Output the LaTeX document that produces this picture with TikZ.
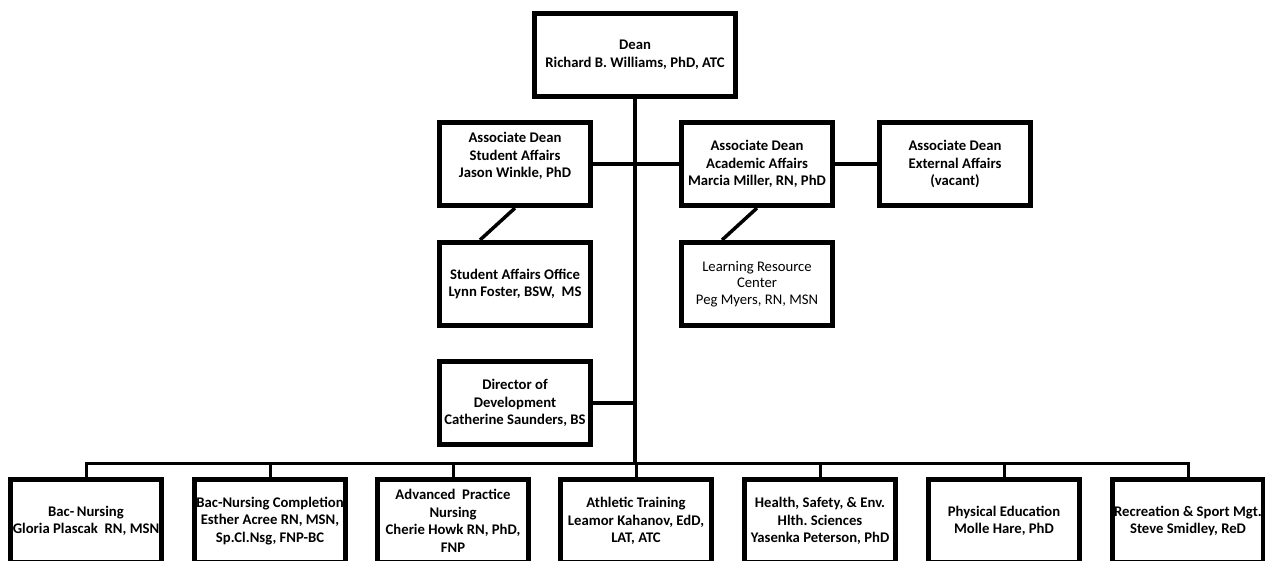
\documentclass[tikz,border=0pt]{standalone}
\usepackage{fontspec}
\setmainfont{Carlito}
\usetikzlibrary{calc}
\frenchspacing

\begin{document}
\begin{tikzpicture}[x=1pt,y=-1pt,
    office/.style={draw,line width=5pt,minimum width=151pt,minimum height=83pt,
      inner sep=1pt,align=center,font=\fontsize{14.7}{17.6}\selectfont\bfseries},
    link/.style={line width=3.5pt},
    bus/.style={line width=3pt}]
    \useasboundingbox (0,0) rectangle (1265,560);
    \clip (0,0) rectangle (1265,560);
    \node[office,minimum width=201pt] (dean) at (635,55) {Dean\\Richard B. Williams, PhD, ATC};
    \node[office] (adStudent) at (515,164) {Associate Dean\\Student Affairs\\Jason Winkle, PhD\\ \mbox{}};
    \node[office] (adAcademic) at (757,164) {Associate Dean\\Academic Affairs\\Marcia Miller, RN, PhD};
    \node[office] (adExternal) at (955,164) {Associate Dean\\External Affairs\\(vacant)};
    \node[office] (saOffice) at (515,284) {Student Affairs Office\\Lynn Foster, BSW,\ \ MS};
    \node[office,font=\fontsize{14.7}{16.8}\selectfont] (lrc) at (757,284) {Learning Resource\\Center\\Peg Myers, RN, MSN};
    \node[office] (devDir) at (515,403) {Director of\\Development\\Catherine Saunders, BS};
    \node[office] (bacNsg) at (86,521) {Bac-\,Nursing\\Gloria Plascak\ \ RN, MSN};
    \node[office] (bacCompl) at (270,521) {Bac-Nursing Completion\\Esther Acree RN, MSN,\\Sp.Cl.Nsg, FNP-BC};
    \node[office] (advNsg) at (453,521) {Advanced\ \ Practice\\Nursing\\Cherie Howk RN, PhD,\\FNP};
    \node[office] (athTrain) at (636,521) {Athletic Training\\Leamor Kahanov, EdD,\\LAT, ATC};
    \node[office] (hsEnv) at (820,521) {Health, Safety, \& Env.\\Hlth. Sciences\\Yasenka Peterson, PhD};
    \node[office] (physEd) at (1004,521) {Physical Education\\Molle Hare, PhD};
    \node[office] (recSport) at (1188,521) {Recreation \& Sport Mgt.\\Steve Smidley, ReD};
    \coordinate (hub) at (635,463);
    \draw[link] (dean.south) -- (hub);
    \draw[link] (adStudent.east) -- (adAcademic.west);
    \draw[link] (adAcademic.east) -- (adExternal.west);
    \draw[link] (adStudent.south) -- ($(saOffice.north)+(-35,0)$);
    \draw[link] (adAcademic.south) -- ($(lrc.north)+(-35,0)$);
    \draw[link] (devDir.east) -- (devDir.east -| hub);
    \draw[bus] (bacNsg.north) -- (bacNsg.north |- hub) -- (recSport.north |- hub) -- (recSport.north);
    \draw[bus] (bacCompl.north) -- (bacCompl.north |- hub);
    \draw[bus] (advNsg.north) -- (advNsg.north |- hub);
    \draw[bus] (athTrain.north) -- (athTrain.north |- hub);
    \draw[bus] (hsEnv.north) -- (hsEnv.north |- hub);
    \draw[bus] (physEd.north) -- (physEd.north |- hub);
\end{tikzpicture}
\end{document}
